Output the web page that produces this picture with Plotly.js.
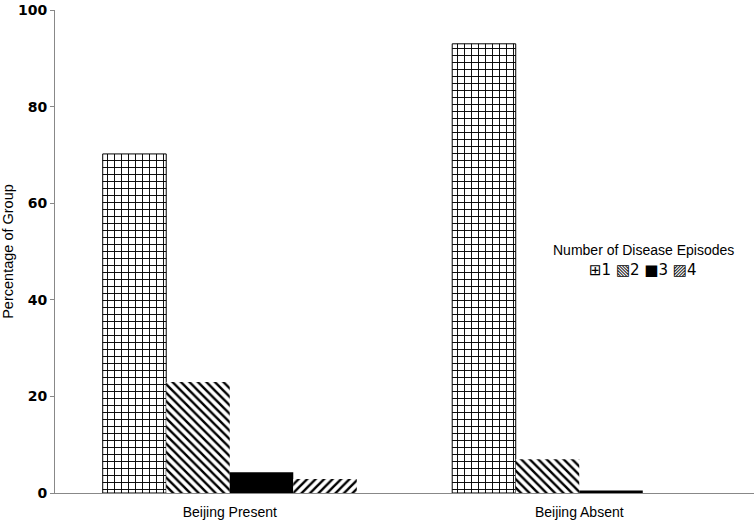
<!DOCTYPE html>
<html>
<head>
<meta charset="utf-8">
<script src="https://cdn.plot.ly/plotly-3.0.1.min.js"></script>
<style>html,body{margin:0;padding:0;background:#fff;}#chart{width:754px;height:520px;}</style>
</head>
<body>
<div id="chart"></div>
<script>
const categories = ["Beijing Present", "Beijing Absent"];
const seriesNames = ["1", "2", "3", "4"];
const seriesGlyphs = ["⊞", "▧", "■", "▨"];
const legendTitle = "Number of Disease Episodes";
const episodes1 = [70.2, 93.0];
const episodes2 = [23.0, 7.0];
const episodes3 = [4.3, 0.5];
const episodes4 = [2.9, 0];
const yTicks = [0, 20, 40, 60, 80, 100];

const values = [episodes1, episodes2, episodes3, episodes4];
const patterns = [
  {shape: "+", size: 7, solidity: 0.25, fgcolor: "#000", bgcolor: "#fff", fillmode: "replace"},
  {shape: "\\", size: 6, solidity: 0.4, fgcolor: "#000", bgcolor: "#fff", fillmode: "replace"},
  null,
  {shape: "/", size: 6, solidity: 0.4, fgcolor: "#000", bgcolor: "#fff", fillmode: "replace"}
];

const traces = values.map((v, i) => {
  const marker = {color: patterns[i] ? "#fff" : "#000", line: {color: "#000", width: i === 0 ? 1 : 0}};
  if (patterns[i]) marker.pattern = patterns[i];
  return {type: "bar", name: seriesNames[i], x: categories, y: v, marker: marker, hoverinfo: "none", showlegend: false};
});

const legendRow = seriesNames.map((n, i) => seriesGlyphs[i] + n).join(" ");

const layout = {
  width: 754, height: 520,
  margin: {l: 55, r: 0, t: 10, b: 27},
  paper_bgcolor: "#fff", plot_bgcolor: "#fff",
  barmode: "group", bargap: 0.273, bargroupgap: 0,
  font: {family: "Liberation Sans, Arial, sans-serif", color: "#000", size: 12},
  xaxis: {
    showline: true, linecolor: "#888", linewidth: 1,
    ticks: "outside", ticklen: 6, tickcolor: "rgba(0,0,0,0)",
    tickfont: {size: 14}, showgrid: false, zeroline: false
  },
  yaxis: {
    range: [0, 100], tickvals: yTicks, ticktext: yTicks.map(String),
    showline: true, linecolor: "#888", linewidth: 1,
    ticks: "outside", ticklen: 4, tickcolor: "#888",
    ticklabeloverflow: "allow",
    tickfont: {size: 14, family: "DejaVu Sans, sans-serif", weight: "bold"},
    showgrid: false, zeroline: false,
    title: {text: "Percentage of Group", font: {size: 14.5}, standoff: 6}
  },
  annotations: [
    {xref: "paper", yref: "paper", x: (643 - 55) / 699, y: (493 - 250) / 483, text: legendTitle,
     showarrow: false, xanchor: "center", yanchor: "middle", font: {size: 14}},
    {xref: "paper", yref: "paper", x: (643 - 55) / 699, y: (493 - 270) / 483, text: legendRow,
     showarrow: false, xanchor: "center", yanchor: "middle", font: {size: 15, family: "DejaVu Sans, Liberation Sans, sans-serif"}}
  ],
  showlegend: false
};

Plotly.newPlot("chart", traces, layout, {displayModeBar: false, staticPlot: true});
</script>
</body>
</html>
